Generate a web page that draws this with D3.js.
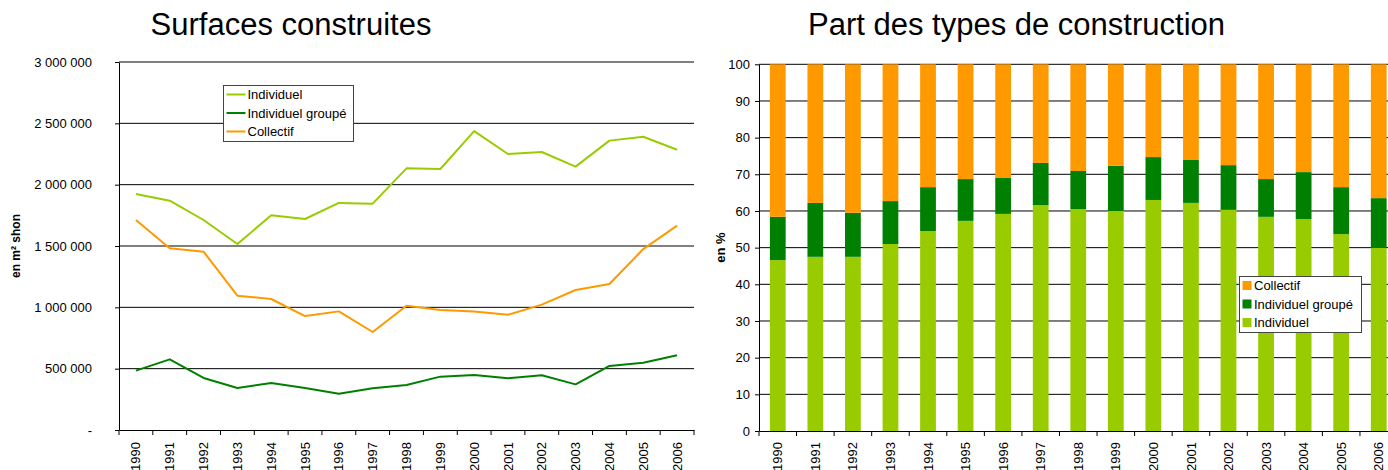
<!DOCTYPE html>
<html>
<head>
<meta charset="utf-8">
<script src="https://cdn.jsdelivr.net/npm/d3@7"></script>
<style>
  html, body { margin: 0; padding: 0; background: #fff; }
  svg { display: block; font-family: "Liberation Sans", Arial, sans-serif; }
</style>
</head>
<body>
<svg id="chart" width="1388" height="470"></svg>
<script>
const years = ["1990","1991","1992","1993","1994","1995","1996","1997","1998","1999","2000","2001","2002","2003","2004","2005","2006"];

// Surfaces construites (m² shon)
const individuel = [1924000, 1869000, 1712000, 1516000, 1750000, 1720000, 1851000, 1845000, 2133000, 2128000, 2437000, 2250000, 2266000, 2147000, 2359000, 2391000, 2285000];
const individuelGroupe = [484000, 576000, 424000, 342000, 383000, 342000, 296000, 340000, 367000, 435000, 448000, 421000, 446000, 372000, 522000, 549000, 609000];
const collectif = [1712000, 1481000, 1454000, 1095000, 1068000, 929000, 967000, 799000, 1013000, 978000, 967000, 940000, 1022000, 1141000, 1190000, 1475000, 1666000];

// Part des types de construction (%)
const pctIndividuel = [46.6, 47.5, 47.5, 51.0, 54.5, 57.3, 59.2, 61.6, 60.5, 60.0, 63.0, 62.2, 60.3, 58.4, 57.8, 53.7, 49.9];
const pctGroupe = [11.8, 14.7, 12.0, 11.7, 12.0, 11.4, 9.8, 11.5, 10.4, 12.3, 11.7, 11.7, 12.2, 10.3, 12.8, 12.8, 13.6];
const pctCollectif = [41.6, 37.8, 40.5, 37.3, 33.5, 31.3, 31.0, 26.9, 29.1, 27.7, 25.3, 26.1, 27.5, 31.3, 29.4, 33.5, 36.5];

const leftTicks = [0, 500000, 1000000, 1500000, 2000000, 2500000, 3000000];
const leftTickLabels = ["-", "500 000", "1 000 000", "1 500 000", "2 000 000", "2 500 000", "3 000 000"];
const rightTicks = [0, 10, 20, 30, 40, 50, 60, 70, 80, 90, 100];

const seriesNames = ["Individuel", "Individuel groupé", "Collectif"];
const colors = { "Individuel": "#99cc00", "Individuel groupé": "#008000", "Collectif": "#ff9900" };

const svg = d3.select("#chart");
const FS = 13;

// ---------- LEFT CHART ----------
const L = { x0: 119, x1: 694, y0: 430, y1: 62 };
const xL = d3.scaleBand().domain(years).range([L.x0, L.x1]);
const yL = d3.scaleLinear().domain([0, 3000000]).range([L.y0, L.y1]);

const gL = svg.append("g");
gL.append("text").attr("x", 291).attr("y", 35).attr("text-anchor", "middle")
  .style("font-size", "31px").text("Surfaces construites");

// gridlines
gL.append("g").selectAll("line").data(leftTicks.slice(1)).join("line")
  .attr("x1", L.x0).attr("x2", L.x1)
  .attr("y1", d => yL(d)).attr("y2", d => yL(d))
  .attr("stroke", "#000").attr("stroke-width", 1);

// y axis
const axL = gL.append("g").attr("transform", `translate(${L.x0},0)`)
  .call(d3.axisLeft(yL).tickValues(leftTicks).tickFormat((d, i) => leftTickLabels[i]).tickSize(4).tickPadding(23).tickSizeOuter(0));
axL.select(".domain").attr("stroke", "#000");
axL.selectAll("text").style("font-size", FS + "px").attr("fill", "#000").style("font-family", "Liberation Sans, Arial, sans-serif");

// x axis
const axLx = gL.append("g").attr("transform", `translate(0,${L.y0})`)
  .call(d3.axisBottom(xL).tickSize(0).tickPadding(0));
axLx.select(".domain").attr("stroke", "#000");
axLx.selectAll("text").attr("transform", "rotate(-90)").attr("x", -12).attr("y", 0).attr("dy", "0.35em")
  .style("text-anchor", "end").style("font-size", FS + "px").style("font-family", "Liberation Sans, Arial, sans-serif");
gL.append("g").selectAll("line").data(years.map(y => xL(y)).concat([L.x1])).join("line")
  .attr("x1", d => d).attr("x2", d => d).attr("y1", L.y0).attr("y2", L.y0 + 5).attr("stroke", "#000");

gL.append("text").attr("transform", `translate(20,${(L.y0 + L.y1) / 2}) rotate(-90)`)
  .attr("text-anchor", "middle").style("font-size", "12px").style("font-weight", "bold").text("en m² shon");

const lineGen = d3.line().x((d, i) => xL(years[i]) + xL.bandwidth() / 2).y(d => yL(d));
const lineSeries = [["Individuel", individuel], ["Individuel groupé", individuelGroupe], ["Collectif", collectif]];
gL.append("g").selectAll("path").data(lineSeries).join("path")
  .attr("d", d => lineGen(d[1])).attr("fill", "none")
  .attr("stroke", d => colors[d[0]]).attr("stroke-width", 2).attr("stroke-linejoin", "round");

// left legend
const lgL = gL.append("g").attr("transform", "translate(223.5,85.5)");
lgL.append("rect").attr("width", 130).attr("height", 56).attr("fill", "#fff").attr("stroke", "#444");
seriesNames.forEach((n, i) => {
  const yy = 9 + i * 18.5;
  lgL.append("line").attr("x1", 3).attr("x2", 22).attr("y1", yy).attr("y2", yy)
    .attr("stroke", colors[n]).attr("stroke-width", 2);
  lgL.append("text").attr("x", 24).attr("y", yy).attr("dy", "0.35em").style("font-size", FS + "px").text(n);
});

// ---------- RIGHT CHART ----------
const step = 37.56;
const R = { x0: 759, x1: 759 + step * 17, y0: 431, y1: 64.3 };
const xR = d3.scaleBand().domain(years).range([R.x0, R.x1]).paddingInner(0.58).paddingOuter(0.29);
const xRb = d3.scaleBand().domain(years).range([R.x0, R.x1]);
const yR = d3.scaleLinear().domain([0, 100]).range([R.y0, R.y1]);

const gR = svg.append("g");
gR.append("text").attr("x", 808).attr("y", 35).attr("text-anchor", "start")
  .style("font-size", "31px").text("Part des types de construction");

gR.append("g").selectAll("line").data(rightTicks.slice(1)).join("line")
  .attr("x1", R.x0).attr("x2", R.x1)
  .attr("y1", d => yR(d)).attr("y2", d => yR(d))
  .attr("stroke", "#000").attr("stroke-width", 1);

const stackData = years.map((y, i) => ({ year: y, "Individuel": pctIndividuel[i], "Individuel groupé": pctGroupe[i], "Collectif": pctCollectif[i] }));
const stacked = d3.stack().keys(seriesNames)(stackData);
gR.append("g").selectAll("g").data(stacked).join("g").attr("fill", d => colors[d.key])
  .selectAll("rect").data(d => d).join("rect")
  .attr("x", d => xR(d.data.year)).attr("width", xR.bandwidth())
  .attr("y", d => yR(d[1])).attr("height", d => yR(d[0]) - yR(d[1]));

const axR = gR.append("g").attr("transform", `translate(${R.x0},0)`)
  .call(d3.axisLeft(yR).tickValues(rightTicks).tickSize(4).tickPadding(5).tickSizeOuter(0));
axR.select(".domain").attr("stroke", "#000");
axR.selectAll("text").style("font-size", FS + "px").style("font-family", "Liberation Sans, Arial, sans-serif");

const axRx = gR.append("g").attr("transform", `translate(0,${R.y0})`)
  .call(d3.axisBottom(xRb).tickSize(0).tickPadding(0));
axRx.select(".domain").attr("stroke", "#000");
axRx.selectAll("text").attr("transform", "rotate(-90)").attr("x", -11).attr("y", 0).attr("dy", "0.35em")
  .style("text-anchor", "end").style("font-size", FS + "px").style("font-family", "Liberation Sans, Arial, sans-serif");
gR.append("g").selectAll("line").data(years.map(y => xRb(y)).concat([R.x1])).join("line")
  .attr("x1", d => d).attr("x2", d => d).attr("y1", R.y0).attr("y2", R.y0 + 5).attr("stroke", "#000");

gR.append("text").attr("transform", `translate(725,${(R.y0 + R.y1) / 2}) rotate(-90)`)
  .attr("text-anchor", "middle").style("font-size", "13px").style("font-weight", "bold").text("en %");

// right legend
const lgR = gR.append("g").attr("transform", "translate(1239.5,276.5)");
lgR.append("rect").attr("width", 122).attr("height", 56).attr("fill", "#fff").attr("stroke", "#444");
["Collectif", "Individuel groupé", "Individuel"].forEach((n, i) => {
  const yy = 9 + i * 18.5;
  lgR.append("rect").attr("x", 3).attr("y", yy - 4.5).attr("width", 9).attr("height", 9).attr("fill", colors[n]);
  lgR.append("text").attr("x", 14.5).attr("y", yy).attr("dy", "0.35em").style("font-size", FS + "px").text(n);
});
</script>
</body>
</html>
